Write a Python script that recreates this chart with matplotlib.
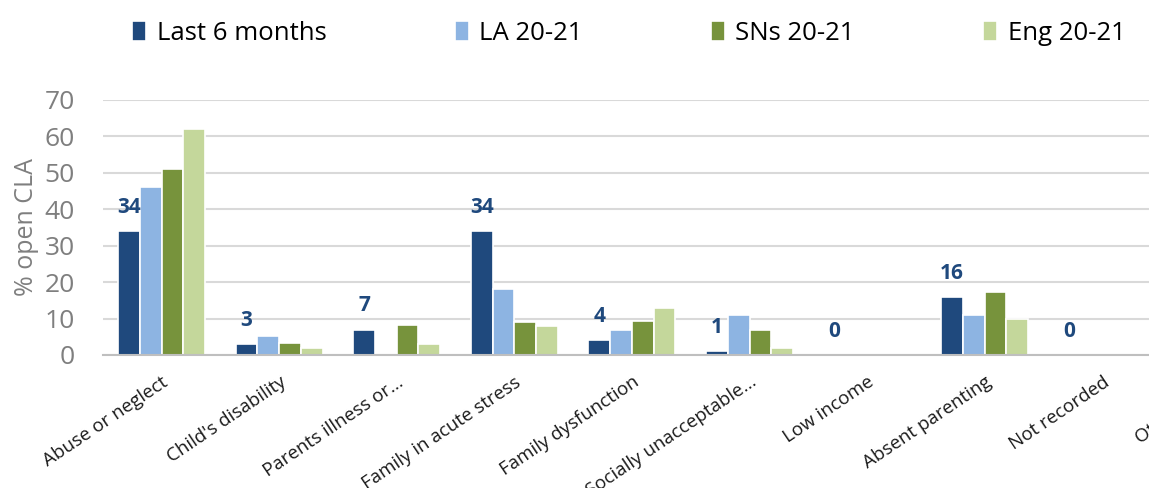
import matplotlib
matplotlib.use("Agg")
import matplotlib.pyplot as plt
import numpy as np

categories = ["Abuse or neglect", "Child's disability", "Parents illness or...",
              "Family in acute stress", "Family dysfunction", "Socially unacceptable...",
              "Low income", "Absent parenting", "Not recorded", "Other cause"]
series_names = ["Last 6 months", "LA 20-21", "SNs 20-21", "Eng 20-21"]
last6 = [34, 3, 7, 34, 4, 1, 0, 16, 0, np.nan]
la = [46, 5.2, 0, 18, 7, 11, 0, 11, 0, np.nan]
sns_vals = [51, 3.4, 8.3, 9, 9.4, 7, 0, 17.3, 0, np.nan]
eng = [62, 2, 3, 8, 13, 2, 0, 10, 0, np.nan]
labels_last6 = ["34", "3", "7", "34", "4", "1", "0", "16", "0", ""]

colors = ["#1F497D", "#8DB4E2", "#77933C", "#C4D79B"]

plt.rcParams['font.family'] = ['Open Sans', 'DejaVu Sans']

fig = plt.figure(figsize=(11.49, 4.88), dpi=100)
# axes run past the right edge, like the cropped original
W, H = 1149, 488
left, right, top, bottom = 102.7, 1278.7, 100, 355
ax = fig.add_axes([left / W, 1 - bottom / H, (right - left) / W, (bottom - top) / H])

x = np.arange(len(categories))
w = 0.185
all_series = [last6, la, sns_vals, eng]
bars = []
for i, vals in enumerate(all_series):
    b = ax.bar(x + (i - 1.5) * w, vals, width=w, color=colors[i],
               edgecolor="white", linewidth=1.2, label=series_names[i], zorder=3)
    bars.append(b)

for xi, v, lab in zip(x, last6, labels_last6):
    if lab:
        ax.annotate(lab, (xi - 1.5 * w, v), xytext=(0, 17), textcoords="offset points",
                    ha="center", va="center", fontsize=15, fontweight="bold",
                    color="#1F497D", zorder=4)

ax.set_xlim(-0.5, len(categories) - 0.5)
ax.set_ylim(0, 70)
ax.set_yticks(range(0, 71, 10))
ax.yaxis.grid(True, color="#D9D9D9", linewidth=1.5, zorder=0)
ax.set_axisbelow(True)
for s in ["left", "right", "top"]:
    ax.spines[s].set_visible(False)
ax.spines["bottom"].set_color("#BFBFBF")
ax.spines["bottom"].set_linewidth(1.5)
ax.spines["bottom"].set_zorder(5)
ax.tick_params(axis="both", length=0)
ax.tick_params(axis="y", labelsize=19, labelcolor="#7F7F7F", pad=20)
ax.set_xticks(x)
ax.set_xticklabels(categories, rotation=34, ha="right", rotation_mode="anchor",
                   fontsize=13.5, color="#1a1a1a")
ax.tick_params(axis="x", pad=13)
ax.set_ylabel("% open CLA", fontsize=18, color="#7F7F7F", labelpad=4)

fig.legend(handles=bars, labels=series_names, loc="upper left",
           bbox_to_anchor=(109 / W, 1.005), ncol=4, frameon=False, fontsize=18.5,
           handlelength=0.55, handleheight=0.85, handletextpad=0.4,
           columnspacing=5.0)

fig.savefig("out.png", dpi=100)
